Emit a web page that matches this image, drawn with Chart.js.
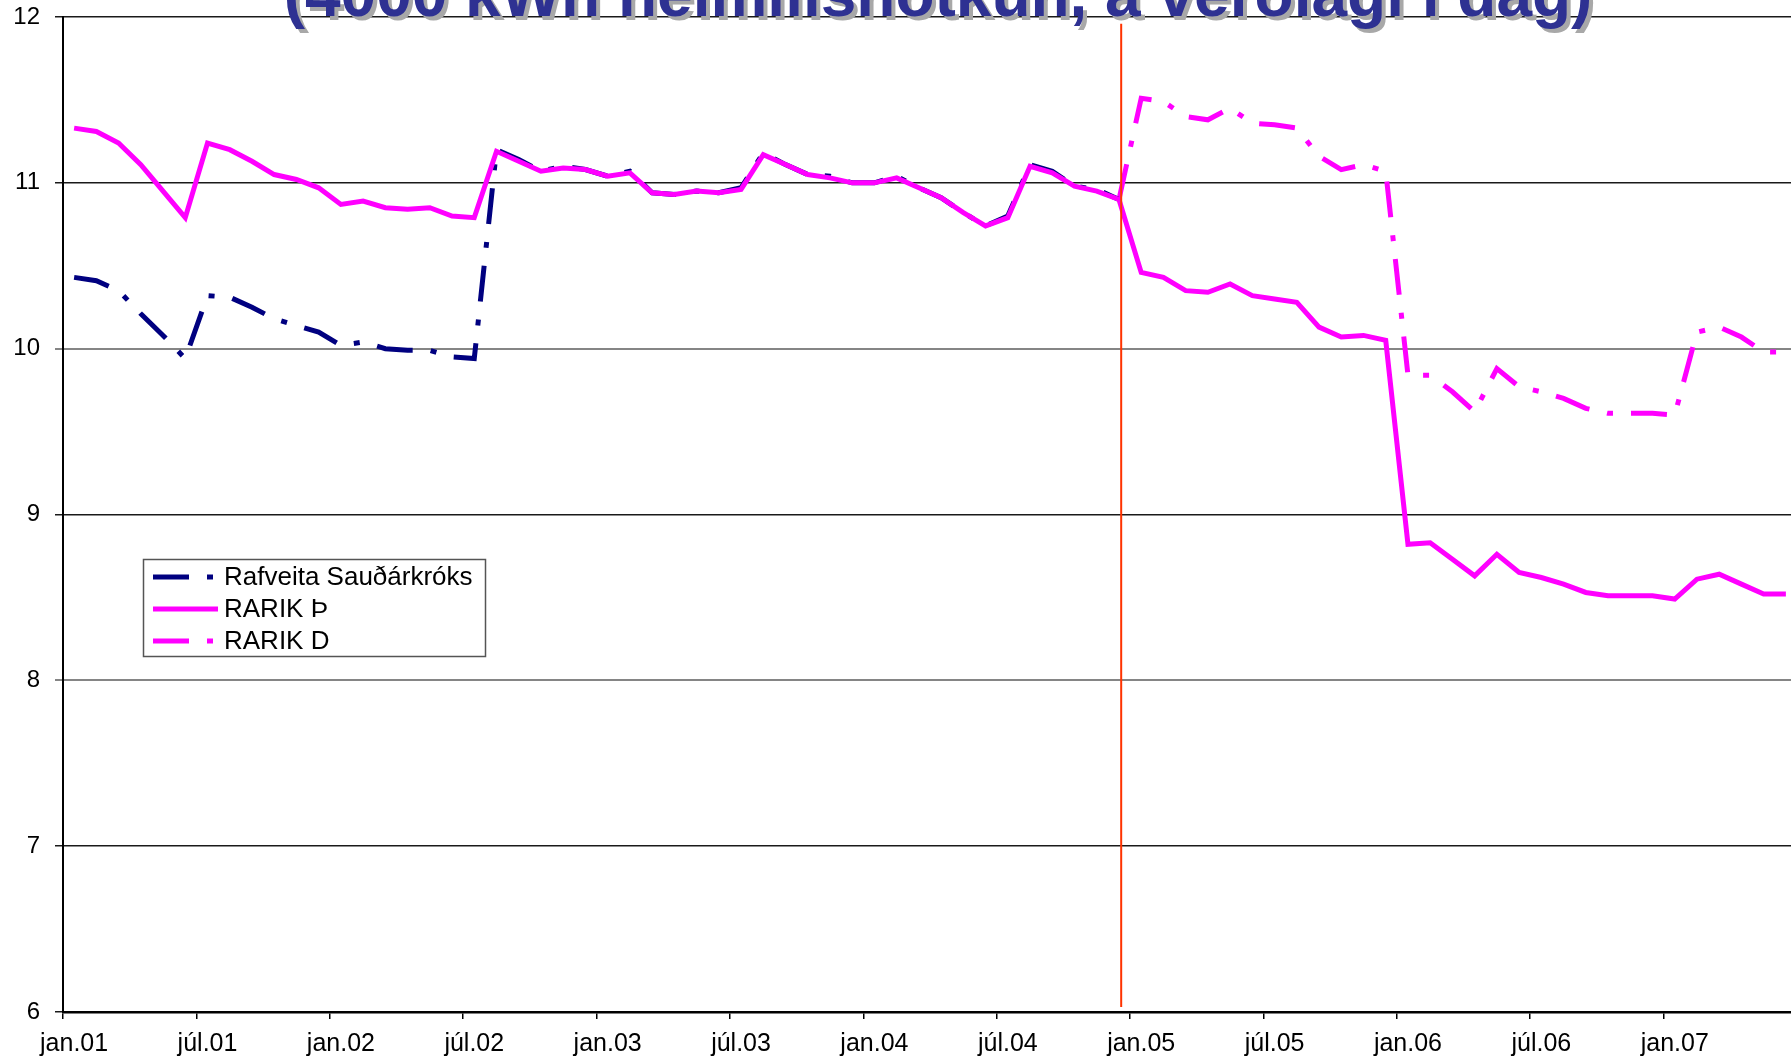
<!DOCTYPE html>
<html lang="is">
<head>
<meta charset="utf-8">
<title>Raforkuverð</title>
<script src="https://cdn.jsdelivr.net/npm/chart.js@4.4.1/dist/chart.umd.min.js"></script>
<style>
  html, body { margin: 0; padding: 0; background: #fff; overflow: hidden; }
  #wrap { position: absolute; left: 0; top: 0; width: 1800px; height: 1060px; }
</style>
</head>
<body>
<div id="wrap"><canvas id="price-chart"></canvas></div>
<script>
// Monthly categories jan.01 .. jún.07 (Icelandic month abbreviations)
const monthNames = ['jan', 'feb', 'mar', 'apr', 'maí', 'jún', 'júl', 'ágú', 'sep', 'okt', 'nóv', 'des'];
const years = ['01', '02', '03', '04', '05', '06', '07'];
const categories = [];
years.forEach(y => monthNames.forEach(m => categories.push(m + '.' + y)));
categories.splice(78);

// Only these get a label + tick mark on the x axis
const tickLabels = ['jan.01', 'júl.01', 'jan.02', 'júl.02', 'jan.03', 'júl.03', 'jan.04',
  'júl.04', 'jan.05', 'júl.05', 'jan.06', 'júl.06', 'jan.07'];

const titleText = '(4000 kWh heimilisnotkun, á verðlagi í dag)';
const seriesNames = ['Rafveita Sauðárkróks', 'RARIK Þ', 'RARIK D'];

const rafveita = [
  10.43, 10.41, 10.35, 10.21, 10.08, 9.94, 10.32, 10.31, 10.25, 10.18, 10.14, 10.10,
  10.02, 10.04, 10.00, 9.99, 9.99, 9.95, 9.94, 11.20, 11.14, 11.07, 11.10, 11.08,
  11.04, 11.07, 10.94, 10.93, 10.95, 10.94, 10.97, 11.18, 11.11, 11.05, 11.04, 11.00,
  11.00, 11.04, 10.97, 10.91, 10.82, 10.74, 10.80, 11.11, 11.07, 10.98, 10.96, 10.90
];

const rarikTh = [
  11.33, 11.31, 11.24, 11.11, 10.95, 10.79, 11.24, 11.20, 11.13, 11.05, 11.02, 10.97,
  10.87, 10.89, 10.85, 10.84, 10.85, 10.80, 10.79, 11.19, 11.13, 11.07, 11.09, 11.08,
  11.04, 11.06, 10.94, 10.93, 10.95, 10.94, 10.96, 11.17, 11.11, 11.05, 11.03, 11.00,
  11.00, 11.03, 10.97, 10.91, 10.82, 10.74, 10.79, 11.10, 11.06, 10.98, 10.95, 10.90,
  10.46, 10.43, 10.35, 10.34, 10.39, 10.32, 10.30, 10.28, 10.13, 10.07, 10.08, 10.05,
  8.82, 8.83, 8.73, 8.63, 8.76, 8.65, 8.62, 8.58, 8.53, 8.51, 8.51, 8.51,
  8.49, 8.61, 8.64, 8.58, 8.52, 8.52
];

const rarikD = [
  null, null, null, null, null, null, null, null, null, null, null, null,
  null, null, null, null, null, null, null, null, null, null, null, null,
  null, null, null, null, null, null, null, null, null, null, null, null,
  null, null, null, null, null, null, null, null, null, null, null, 10.90,
  11.51, 11.49, 11.40, 11.38, 11.45, 11.36, 11.35, 11.33, 11.16, 11.08, 11.11, 11.07,
  9.84, 9.84, 9.74, 9.62, 9.88, 9.77, 9.74, 9.70, 9.64, 9.61, 9.61, 9.61,
  9.60, 10.10, 10.13, 10.07, 9.98, 9.98
];

// vertical red marker just after des.04
const markerCategory = 'des.04';
const markerShift = 0.1;
const markerRange = [11.96, 6.03];

const FONT = "'Liberation Sans', Arial, sans-serif";
const NAVY = '#000080';
const MAGENTA = '#ff00ff';
const DASH = [36, 18, 6, 18];

const overlayPlugin = {
  id: 'overlay',
  afterDatasetsDraw(chart) {
    const { ctx, scales: { x, y } } = chart;
    const px = x.getPixelForValue(categories.indexOf(markerCategory) + markerShift);
    ctx.save();
    ctx.strokeStyle = '#ff3300';
    ctx.lineWidth = 2;
    ctx.beginPath();
    ctx.moveTo(px, y.getPixelForValue(markerRange[0]));
    ctx.lineTo(px, y.getPixelForValue(markerRange[1]));
    ctx.stroke();
    ctx.restore();
  },
  afterDraw(chart) {
    const { ctx, chartArea } = chart;
    ctx.save();

    // title, only its lower part is inside the picture
    const cx = (chartArea.left + chartArea.right) / 2 + 8;
    ctx.font = 'bold 64px ' + FONT;
    ctx.textAlign = 'center';
    ctx.textBaseline = 'alphabetic';
    ctx.fillStyle = '#a8a8a8';
    ctx.fillText(titleText, cx + 4, 16 + 4);
    ctx.fillStyle = '#2e3192';
    ctx.fillText(titleText, cx, 16);

    // legend box
    ctx.fillStyle = '#fff';
    ctx.fillRect(143.5, 559.5, 342, 97);
    ctx.strokeStyle = '#555';
    ctx.lineWidth = 1.5;
    ctx.strokeRect(143.5, 559.5, 342, 97);

    ctx.font = '26px ' + FONT;
    ctx.textAlign = 'left';
    ctx.textBaseline = 'middle';
    chart.data.datasets.forEach((ds, i) => {
      const ly = 577 + i * 32;
      ctx.strokeStyle = ds.borderColor;
      ctx.lineWidth = ds.borderWidth;
      ctx.setLineDash(ds.borderDash || []);
      ctx.beginPath();
      ctx.moveTo(153, ly);
      ctx.lineTo(218, ly);
      ctx.stroke();
      ctx.setLineDash([]);
      ctx.fillStyle = '#000';
      ctx.fillText(ds.label, 224, ly + 1);
    });
    ctx.restore();
  }
};

const isGray = c => c.tick && (c.tick.value === 10 || c.tick.value === 8);
const hasLabel = c => c.tick && c.tick.label;

new Chart(document.getElementById('price-chart'), {
  type: 'line',
  data: {
    labels: categories,
    datasets: [
      {
        label: seriesNames[0],
        data: rafveita,
        borderColor: NAVY,
        borderWidth: 5,
        borderDash: DASH,
        pointRadius: 0,
        tension: 0,
        order: 2,
      },
      {
        label: seriesNames[1],
        data: rarikTh,
        borderColor: MAGENTA,
        borderWidth: 5,
        pointRadius: 0,
        tension: 0,
        order: 1,
      },
      {
        label: seriesNames[2],
        data: rarikD,
        borderColor: MAGENTA,
        borderWidth: 5,
        borderDash: DASH,
        pointRadius: 0,
        tension: 0,
        order: 3,
      },
    ],
  },
  options: {
    responsive: true,
    maintainAspectRatio: false,
    animation: false,
    events: [],
    layout: {
      autoPadding: false,
      padding: { left: 0, top: 17, right: 3, bottom: 0 },
    },
    plugins: {
      legend: { display: false },
      title: { display: false },
      tooltip: { enabled: false },
    },
    scales: {
      x: {
        offset: true,
        afterFit(scale) { scale.height = 48; },
        border: { display: true, color: '#000', width: 2.5 },
        grid: {
          offset: true,
          drawOnChartArea: false,
          drawTicks: true,
          tickLength: 7,
          color: c => hasLabel(c) ? '#000' : 'rgba(0,0,0,0)',
          tickColor: c => hasLabel(c) ? '#000' : 'rgba(0,0,0,0)',
          lineWidth: 1.5,
        },
        ticks: {
          autoSkip: false,
          maxRotation: 0,
          minRotation: 0,
          padding: 10,
          color: '#000',
          font: { family: FONT, size: 25 },
          callback(value, index) {
            const l = categories[index];
            return tickLabels.includes(l) ? l : '';
          },
        },
      },
      y: {
        min: 6,
        max: 12,
        afterFit(scale) {
          scale.width = 63;
          scale.paddingTop = 0;
          scale.paddingBottom = 0;
        },
        border: { display: true, color: '#000', width: 2 },
        grid: {
          color: c => isGray(c) ? '#858585' : '#1a1a1a',
          lineWidth: c => isGray(c) ? 2 : 1.5,
          tickLength: 8,
        },
        ticks: {
          stepSize: 1,
          padding: 15,
          color: '#000',
          font: { family: FONT, size: 24 },
        },
      },
    },
  },
  plugins: [overlayPlugin],
});
</script>
</body>
</html>
